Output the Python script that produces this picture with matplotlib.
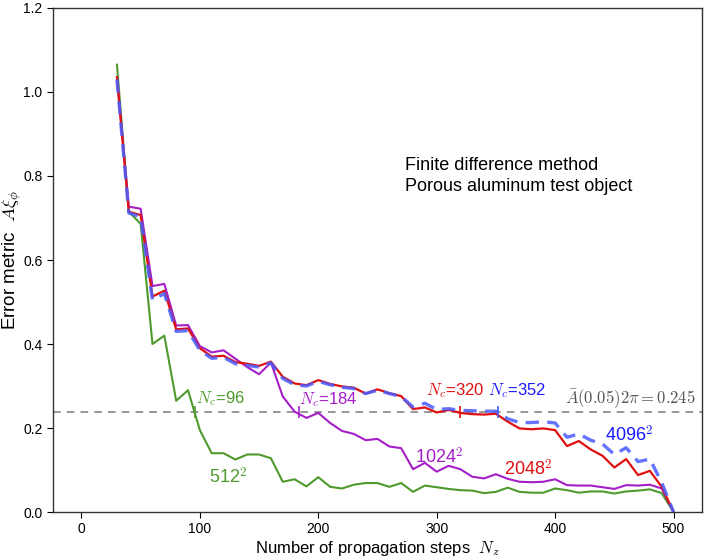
import matplotlib
matplotlib.use("Agg")
import matplotlib.pyplot as plt
import numpy as np

plt.rcParams['font.family'] = ['Liberation Sans', 'DejaVu Sans']
plt.rcParams['mathtext.fontset'] = 'cm'

steps = list(range(30, 501, 10))

err_512 = [1.065, 0.715, 0.686, 0.400, 0.420, 0.265, 0.290, 0.195, 0.140, 0.140,
           0.125, 0.137, 0.137, 0.128, 0.072, 0.078, 0.061, 0.083, 0.060, 0.056,
           0.065, 0.069, 0.069, 0.060, 0.069, 0.048, 0.063, 0.059, 0.055, 0.052,
           0.051, 0.045, 0.048, 0.058, 0.048, 0.046, 0.046, 0.056, 0.052, 0.046,
           0.049, 0.049, 0.044, 0.049, 0.051, 0.054, 0.045, 0.000]

err_1024 = [1.035, 0.727, 0.722, 0.538, 0.543, 0.444, 0.445, 0.395, 0.380, 0.385,
            0.365, 0.345, 0.328, 0.356, 0.275, 0.239, 0.224, 0.236, 0.212, 0.193,
            0.186, 0.171, 0.174, 0.156, 0.152, 0.102, 0.117, 0.096, 0.110, 0.102,
            0.084, 0.080, 0.090, 0.079, 0.072, 0.071, 0.072, 0.078, 0.064, 0.063,
            0.063, 0.059, 0.055, 0.064, 0.063, 0.065, 0.056, 0.000]

err_2048 = [1.035, 0.715, 0.707, 0.513, 0.527, 0.435, 0.437, 0.390, 0.370, 0.372,
            0.357, 0.353, 0.348, 0.358, 0.322, 0.306, 0.302, 0.314, 0.305, 0.299,
            0.296, 0.282, 0.292, 0.283, 0.276, 0.245, 0.249, 0.237, 0.243, 0.236,
            0.233, 0.232, 0.234, 0.215, 0.199, 0.197, 0.199, 0.195, 0.157, 0.169,
            0.149, 0.134, 0.106, 0.126, 0.088, 0.098, 0.060, 0.000]

err_4096 = [1.030, 0.712, 0.703, 0.505, 0.520, 0.430, 0.432, 0.385, 0.366, 0.368,
            0.353, 0.349, 0.345, 0.355, 0.318, 0.303, 0.300, 0.311, 0.303, 0.297,
            0.294, 0.282, 0.290, 0.282, 0.275, 0.250, 0.259, 0.244, 0.246, 0.242,
            0.241, 0.240, 0.240, 0.222, 0.213, 0.213, 0.215, 0.212, 0.178, 0.186,
            0.171, 0.162, 0.137, 0.153, 0.120, 0.126, 0.070, 0.000]

threshold = 0.238
crossings = [96, 184, 320, 352]

c_green = '#4f9a2c'
c_purple = '#a51ec8'
c_red = '#e01010'
c_blue = '#4a5cff'

fig = plt.figure(figsize=(7.06, 5.58), dpi=100)
ax = fig.add_axes([0.0751, 0.0824, 0.9192, 0.9033])

ax.axhline(threshold, color='#7a7a7a', lw=1.1, ls=(0, (5, 4)), zorder=1)
ax.plot(steps, err_512, color=c_green, lw=1.5, zorder=2)
ax.plot(steps, err_1024, color=c_purple, lw=1.5, zorder=3)
ax.plot(steps, err_2048, color=c_red, lw=1.6, zorder=4)
ax.plot(steps, err_4096, color=c_blue, lw=2.4, ls=(0, (4, 2.5)), alpha=0.85, zorder=5)

for xc, col in zip(crossings, [c_green, c_purple, c_red, c_blue]):
    ax.plot([xc], [threshold], marker='|', color=col, ms=9, mew=1.2, zorder=6)

ax.text(97, 0.271, r'$N_c$=96', color=c_green, fontsize=12, va='center', ha='left')
ax.text(184, 0.267, r'$N_c$=184', color=c_purple, fontsize=12, va='center', ha='left')
ax.text(291, 0.290, r'$N_c$=320', color=c_red, fontsize=12, va='center', ha='left')
ax.text(343, 0.288, r'$N_c$=352', color='#1a1aff', fontsize=12, va='center', ha='left')
ax.text(519, 0.268, r'$\bar{A}(0.05)2\pi = 0.245$', color='#555555', fontsize=12,
        va='center', ha='right')

ax.text(124, 0.082, r'512$^2$', color=c_green, fontsize=13, va='center', ha='center')
ax.text(302, 0.131, r'1024$^2$', color=c_purple, fontsize=13, va='center', ha='center')
ax.text(377, 0.102, r'2048$^2$', color=c_red, fontsize=13, va='center', ha='center')
ax.text(463, 0.183, r'4096$^2$', color='#1a1aff', fontsize=13, va='center', ha='center')

ax.text(273, 0.80, 'Finite difference method\nPorous aluminum test object',
        fontsize=13, va='center', ha='left', linespacing=1.3)

ax.set_xlim(-24, 524)
ax.set_ylim(0, 1.2)
ax.set_xticks([0, 100, 200, 300, 400, 500])
ax.set_yticks(np.arange(0, 1.21, 0.2))
ax.set_yticklabels([f'{v:.1f}' for v in np.arange(0, 1.21, 0.2)])
ax.tick_params(direction='out', length=4, labelsize=10, top=False, right=False)
ax.set_xlabel(r'Number of propagation steps  $N_z$', fontsize=12, labelpad=2)
ax.set_ylabel(r'Error metric  $A\xi_\phi$', fontsize=13.5, va='center', ha='center')
ax.yaxis.set_label_coords(-0.063, 0.5)
for s in ax.spines.values():
    s.set_linewidth(1.0)
    s.set_color('#333333')

fig.savefig('out.png', dpi=100)
